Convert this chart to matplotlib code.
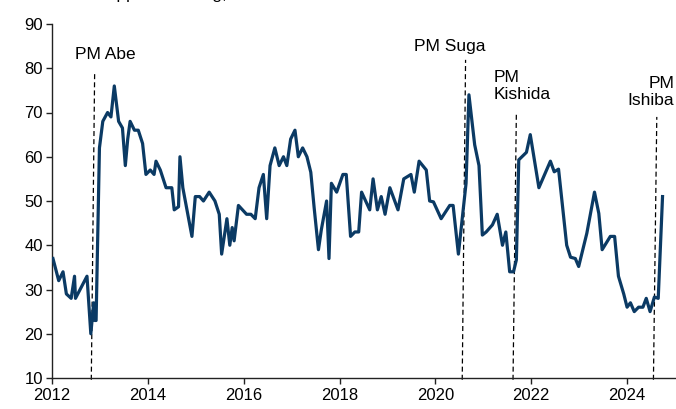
import numpy as np
import matplotlib
matplotlib.use('Agg')
import matplotlib.pyplot as plt

plt.rcParams['font.family'] = ['Liberation Sans', 'DejaVu Sans']

# approval rating (%), dates as decimal years
yrs = [2012.02, 2012.14, 2012.23, 2012.30, 2012.40, 2012.47, 2012.49, 2012.73,
       2012.81, 2012.87, 2012.89, 2012.92, 2012.99, 2013.06, 2013.16, 2013.23,
       2013.30, 2013.39, 2013.47, 2013.53, 2013.58, 2013.63, 2013.72, 2013.80,
       2013.89, 2013.96, 2014.05, 2014.13, 2014.17, 2014.26, 2014.38, 2014.50,
       2014.55, 2014.64, 2014.67, 2014.73, 2014.92, 2014.99, 2015.08, 2015.16,
       2015.28, 2015.40, 2015.49, 2015.54, 2015.65, 2015.71, 2015.76, 2015.80,
       2015.89, 2016.06, 2016.15, 2016.24, 2016.32, 2016.41, 2016.48, 2016.55,
       2016.65, 2016.74, 2016.83, 2016.90, 2016.98, 2017.07, 2017.14, 2017.23,
       2017.32, 2017.40, 2017.47, 2017.56, 2017.62, 2017.73, 2017.78, 2017.83,
       2017.94, 2018.07, 2018.14, 2018.23, 2018.32, 2018.40, 2018.46, 2018.63,
       2018.70, 2018.79, 2018.87, 2018.95, 2019.05, 2019.22, 2019.34, 2019.49,
       2019.56, 2019.66, 2019.81, 2019.88, 2019.96, 2020.12, 2020.30, 2020.37,
       2020.48, 2020.64, 2020.70, 2020.82, 2020.91, 2020.98, 2021.06, 2021.19,
       2021.29, 2021.40, 2021.47, 2021.55, 2021.63, 2021.69, 2021.74, 2021.90,
       2021.98, 2022.16, 2022.40, 2022.48, 2022.57, 2022.74, 2022.82, 2022.92,
       2022.99, 2023.16, 2023.32, 2023.41, 2023.48, 2023.65, 2023.74, 2023.82,
       2023.93, 2024.00, 2024.07, 2024.15, 2024.24, 2024.33, 2024.40, 2024.48,
       2024.57, 2024.65, 2024.74]
rating = [37, 32, 34, 29, 28, 33, 28, 33,
          20, 27, 23, 23, 62, 68, 70, 69,
          76, 68, 66.5, 58, 64, 68, 66, 66,
          63, 56, 57, 56, 59, 57, 53, 53,
          48, 48.7, 60, 53, 42, 51, 51, 50,
          52, 50, 47, 38, 46, 40, 44, 41,
          49, 47, 47, 46, 53, 56, 46, 58,
          62, 58, 60, 58, 64, 66, 60, 62,
          60, 56.5, 48.5, 39, 43.5, 50, 37, 54,
          52, 56, 56, 42, 43, 43, 52, 48,
          55, 48, 51, 47, 53, 48, 55, 56,
          52, 59, 57, 50, 49.8, 46, 49, 49,
          38, 54, 74, 62.7, 58, 42.3, 43, 44.6,
          47, 40, 43, 34, 34, 36.7, 59.3, 61,
          65, 53, 59, 56.6, 57.2, 40, 37.3, 37,
          35.2, 42.7, 52, 47.2, 39, 42, 42, 33,
          29, 26, 27, 25, 26, 26, 28, 25,
          28.3, 28, 51]

pm_names = ['PM Abe', 'PM Suga', 'PM\nKishida', 'PM\nIshiba']
pm_dates = [2012.89, 2020.63, 2021.69, 2024.62]

navy = '#0b3a64'

fig = plt.figure(figsize=(6.76, 4.09), dpi=100)
ax = fig.add_axes([52/676, 31/409, 623/676, 354/409])

ax.plot(yrs, rating, color=navy, lw=2.3, solid_joinstyle='round', zorder=3)

# dashed lines marking each new PM (slightly slanted like the original)
tops = [79.2, 81.9, 70.1, 69.0]
for d, top in zip(pm_dates, tops):
    ax.plot([d - 0.07, d], [9.6, top], color='black', lw=0.9,
            ls=(0, (4, 2.5)), clip_on=False, zorder=2)

ax.text(2013.12, 83.2, pm_names[0], ha='center', va='center', fontsize=12.5)
ax.text(2020.30, 85.0, pm_names[1], ha='center', va='center', fontsize=12.5)
ax.text(2021.21, 76.0, pm_names[2], ha='left', va='center', fontsize=12.5,
        multialignment='left')
ax.text(2024.98, 74.6, pm_names[3], ha='right', va='center', fontsize=12.5,
        multialignment='right')

# cut-off heading at the very top of the original picture
fig.text(42/676, 1 + 1.5/409, 'Cabinet approval rating, %', ha='left',
         va='baseline', fontsize=12.5)

ax.set_xlim(2012, 2025)
ax.set_ylim(10, 90)
ax.set_xticks(np.arange(2012, 2025, 2))
ax.set_xticklabels([str(y) for y in range(2012, 2025, 2)])
ax.set_yticks(np.arange(10, 91, 10))

for s in ['top', 'right']:
    ax.spines[s].set_visible(False)
for s in ['left', 'bottom']:
    ax.spines[s].set_linewidth(1.0)
    ax.spines[s].set_color('#222222')
ax.tick_params(axis='both', direction='out', length=4, width=1.0,
               color='#222222', labelsize=12)
ax.tick_params(axis='y', pad=2.5)
ax.tick_params(axis='x', pad=3)

fig.savefig('out.png', dpi=100)
